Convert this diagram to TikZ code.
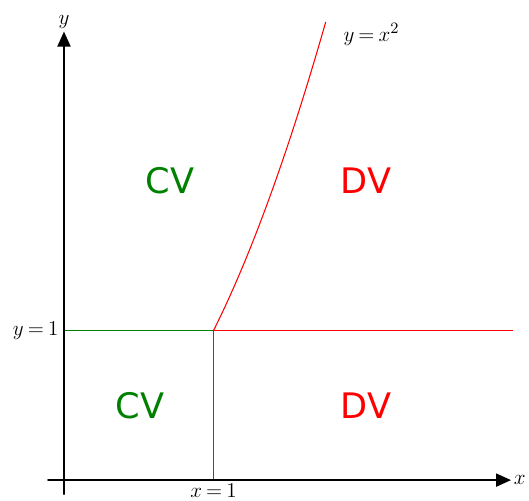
\documentclass[tikz,border=0pt]{standalone}
\usepackage{fontspec}
\newfontfamily\regionfont{DejaVu Sans}
\usetikzlibrary{arrows.meta}
\definecolor{cvgreen}{RGB}{0,128,0}
\newcommand\lblfont{\fontsize{12.3}{15}\selectfont\thickmuskip=3.5mu\relax}
\tikzset{
	axis/.style={line width=1.1pt, -{Triangle[length=3mm, width=2.6mm]}},
	region/.style={font=\regionfont\fontsize{20}{24}\selectfont},
	border/.style={line width=0.6pt},
	lbl/.style={font=\lblfont, inner sep=1pt}
}
\begin{document}
\begin{tikzpicture}[line cap=round, line join=round, x=2.99cm, y=2.99cm]
			% Define window bounds
			\def\xmin{-0.428} \def\xmax{3.11}
			\def\ymin{-0.134} \def\ymax{3.211}
			\useasboundingbox (\xmin,\ymin) rectangle (\xmax,\ymax);
			
			% Key points
			\coordinate (O) at (0,0);
			\coordinate (P) at (1,1);
			\coordinate (Px) at (1,0);
			\coordinate (Py) at (0,1);
			\coordinate (Pr) at (3.0,1);
			
			% Boundary y = x^2 for x >= 1
			\draw[red, border, smooth, samples=60, domain=1:1.75]
			plot(\x, {(\x)^2}) coordinate (Ptop);
			
			% Boundary lines through (1,1)
			\draw[cvgreen, border] (Py) -- (P);
			\draw[red, border] (P) -- (Pr);
			\draw[red, border] (P) -- (Px);
			
			% Draw Coordinate Axes
			\draw[axis] (-0.107,0) -- (2.99,0) node[lbl, right] (xlab) {$x$};
			\draw[axis] (0,-0.094) -- (0,3.0) node[lbl, above] (ylab) {$y$};
			
			% Labels for key points
			\node[lbl, below, yshift=-1pt] (x1) at (Px) {$x=1$};
			\node[lbl, left, xshift=-2pt] (y1) at (Py) {$y=1$};
			\node[lbl, right, xshift=9pt] (curve) at (Ptop |- 0,2.98) {$y=x^2$};
			
			% Regions
			\node[region, text=cvgreen] (cvup) at (0.71,2.0) {CV};
			\node[region, text=red] (dvup) at (2.02,2.0) {DV};
			\node[region, text=cvgreen] (cvlow) at (0.51,0.5) {CV};
			\node[region, text=red] (dvlow) at (2.02,0.5) {DV};
		\end{tikzpicture}
\end{document}
